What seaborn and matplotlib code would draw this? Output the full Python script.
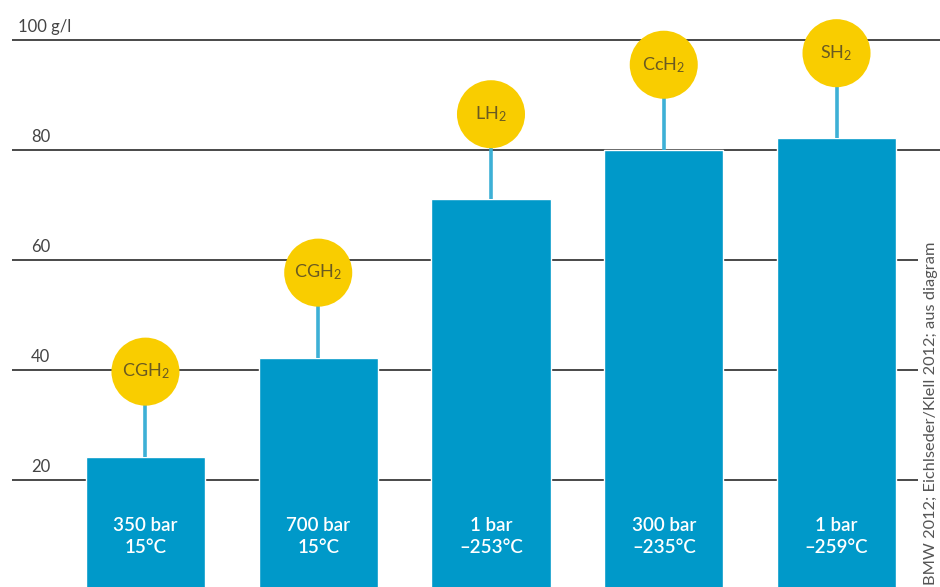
import matplotlib
matplotlib.use("Agg")
import matplotlib.pyplot as plt
import seaborn as sns
import pandas as pd

# ---- data ----
conditions = ["350 bar\n15°C", "700 bar\n15°C", "1 bar\n–253°C", "300 bar\n–235°C", "1 bar\n–259°C"]
storage = [r"CGH$_2$", r"CGH$_2$", r"LH$_2$", r"CcH$_2$", r"SH$_2$"]
density = [24.2, 42.2, 71.0, 80.0, 82.1]   # g/l
yticks = [20, 40, 60, 80, 100]
ytick_labels = ["20", "40", "60", "80", "100 g/l"]
source = "BMW 2012; Eichlseder/Klell 2012; aus diagram"

sns.set_theme(style="white")
plt.rcParams["font.family"] = ["Lato", "DejaVu Sans"]
plt.rcParams["mathtext.default"] = "regular"

BAR = "#0099C9"
STEM = "#3DB0D6"
YELLOW = "#F9CD00"
LABEL = "#6A5A22"
GREY = "#3a3a3a"

df = pd.DataFrame({"cond": conditions, "density": density, "storage": storage})

fig = plt.figure(figsize=(9.4, 5.87), dpi=100)
ax = fig.add_axes([0, 0, 1, 1])

sns.barplot(data=df, x="cond", y="density", color=BAR, saturation=1,
            width=0.69, ax=ax, zorder=2)

ax.set_xlim(-0.842, 4.599)
ax.set_ylim(0.545, 107.27)
ax.axis("off")

# gridlines
for v in yticks:
    xmax = 1.0 if v >= 80 else 0.9766
    ax.hlines(v, 0.0128, xmax, transform=ax.get_yaxis_transform(),
              color=GREY, lw=1.3, zorder=1)

# tick labels
for v, lab in zip(yticks, ytick_labels):
    if lab.startswith("100"):
        ax.text(0.0195, v + 0.9, lab, transform=ax.get_yaxis_transform(),
                ha="left", va="bottom", fontsize=12, color="#444444")
    else:
        ax.text(0.0535, v + 0.9, lab, transform=ax.get_yaxis_transform(),
                ha="right", va="bottom", fontsize=12, color="#444444")

offset = 15.5
xs = list(range(len(density)))
tops = [d + offset for d in density]

ax.vlines(xs, density, tops, color=STEM, lw=2.6, zorder=3)
ax.scatter(xs, tops, s=2400, color=YELLOW, edgecolor="none", zorder=4)

for x, t, lab in zip(xs, tops, storage):
    ax.text(x, t, lab, ha="center", va="center", fontsize=13,
            color=LABEL, zorder=5)

for x, c in zip(xs, conditions):
    ax.text(x, 9.7, c, ha="center", va="center", fontsize=13.5,
            color="white", fontweight="semibold", linespacing=1.4, zorder=5)

fig.text(0.99, 0.003, source, rotation=90, ha="center", va="bottom",
         fontsize=11.8, color="#555555")

fig.savefig("out.png", dpi=100)
